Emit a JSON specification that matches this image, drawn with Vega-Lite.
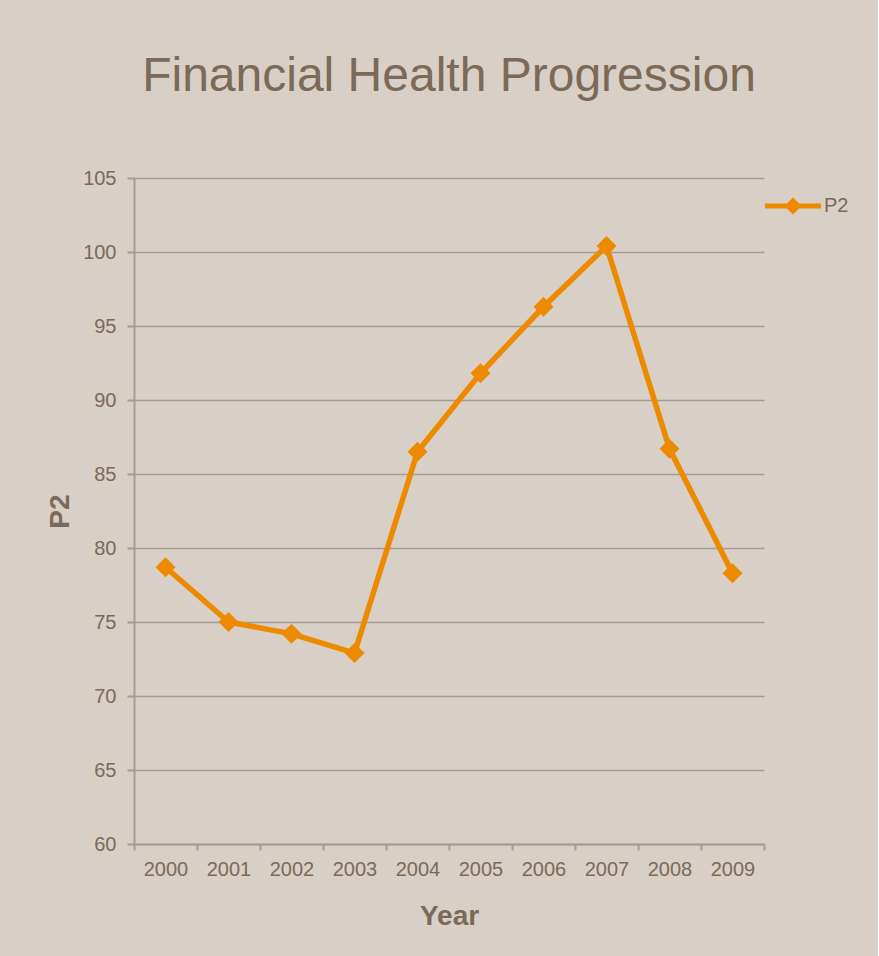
{
  "$schema": "https://vega.github.io/schema/vega-lite/v6.json",
  "width": 630,
  "height": 666,
  "autosize": {"type": "pad"},
  "padding": {"left": 46, "top": 53, "right": 29, "bottom": 28},
  "background": "#d8cfc6",
  "config": {
    "font": "Liberation Sans",
    "view": {"stroke": null},
    "axis": {
      "labelColor": "#7b6a58",
      "titleColor": "#7b6a58",
      "labelFont": "Liberation Sans",
      "titleFont": "Liberation Sans",
      "labelFontSize": 20,
      "titleFontSize": 28,
      "titleFontWeight": "bold",
      "domainColor": "#a59d95",
      "domainWidth": 2,
      "tickColor": "#a59d95",
      "tickWidth": 2,
      "gridColor": "#a59d95",
      "gridWidth": 1.5,
      "gridOpacity": 1
    }
  },
  "title": {
    "text": "Financial Health Progression",
    "fontSize": 48,
    "font": "Liberation Sans",
    "fontWeight": "normal",
    "color": "#7b6a58",
    "anchor": "middle",
    "offset": 67
  },
  "data": {
    "values": [
      {"Year": "2000", "P2": 78.7, "series": "P2"},
      {"Year": "2001", "P2": 75.0, "series": "P2"},
      {"Year": "2002", "P2": 74.2, "series": "P2"},
      {"Year": "2003", "P2": 72.9, "series": "P2"},
      {"Year": "2004", "P2": 86.5, "series": "P2"},
      {"Year": "2005", "P2": 91.8, "series": "P2"},
      {"Year": "2006", "P2": 96.3, "series": "P2"},
      {"Year": "2007", "P2": 100.4, "series": "P2"},
      {"Year": "2008", "P2": 86.7, "series": "P2"},
      {"Year": "2009", "P2": 78.3, "series": "P2"}
    ]
  },
  "encoding": {
    "x": {
      "field": "Year",
      "type": "ordinal",
      "scale": {"type": "band", "paddingInner": 0, "paddingOuter": 0},
      "axis": {
        "title": "Year",
        "labelAngle": 0,
        "tickBand": "extent",
        "tickSize": 6,
        "labelPadding": 9,
        "titlePadding": 23,
        "grid": false
      }
    },
    "y": {
      "field": "P2",
      "type": "quantitative",
      "scale": {"domain": [60, 105], "nice": false, "zero": false},
      "axis": {
        "title": "P2",
        "values": [60, 65, 70, 75, 80, 85, 90, 95, 100, 105],
        "tickSize": 7,
        "labelPadding": 11,
        "titlePadding": 8,
        "grid": true
      }
    }
  },
  "layer": [
    {
      "mark": {"type": "line", "color": "#ee8a00", "strokeWidth": 5.5}
    },
    {
      "mark": {"type": "point", "shape": "diamond", "filled": true, "size": 400, "opacity": 1},
      "encoding": {
        "color": {
          "field": "series",
          "type": "nominal",
          "scale": {"range": ["#ee8a00"]},
          "legend": {
            "title": null,
            "orient": "none",
            "legendX": 631,
            "legendY": 0,
            "padding": 0,
            "symbolType": "M-1,-0.09L-0.22,-0.09L0,-0.3L0.22,-0.09L1,-0.09L1,0.09L0.22,0.09L0,0.3L-0.22,0.09L-1,0.09Z",
            "symbolSize": 3136,
            "symbolStrokeWidth": 0,
            "symbolOpacity": 1,
            "labelFontSize": 20,
            "labelColor": "#7b6a58",
            "labelFont": "Liberation Sans",
            "labelOffset": 3
          }
        }
      }
    }
  ]
}
